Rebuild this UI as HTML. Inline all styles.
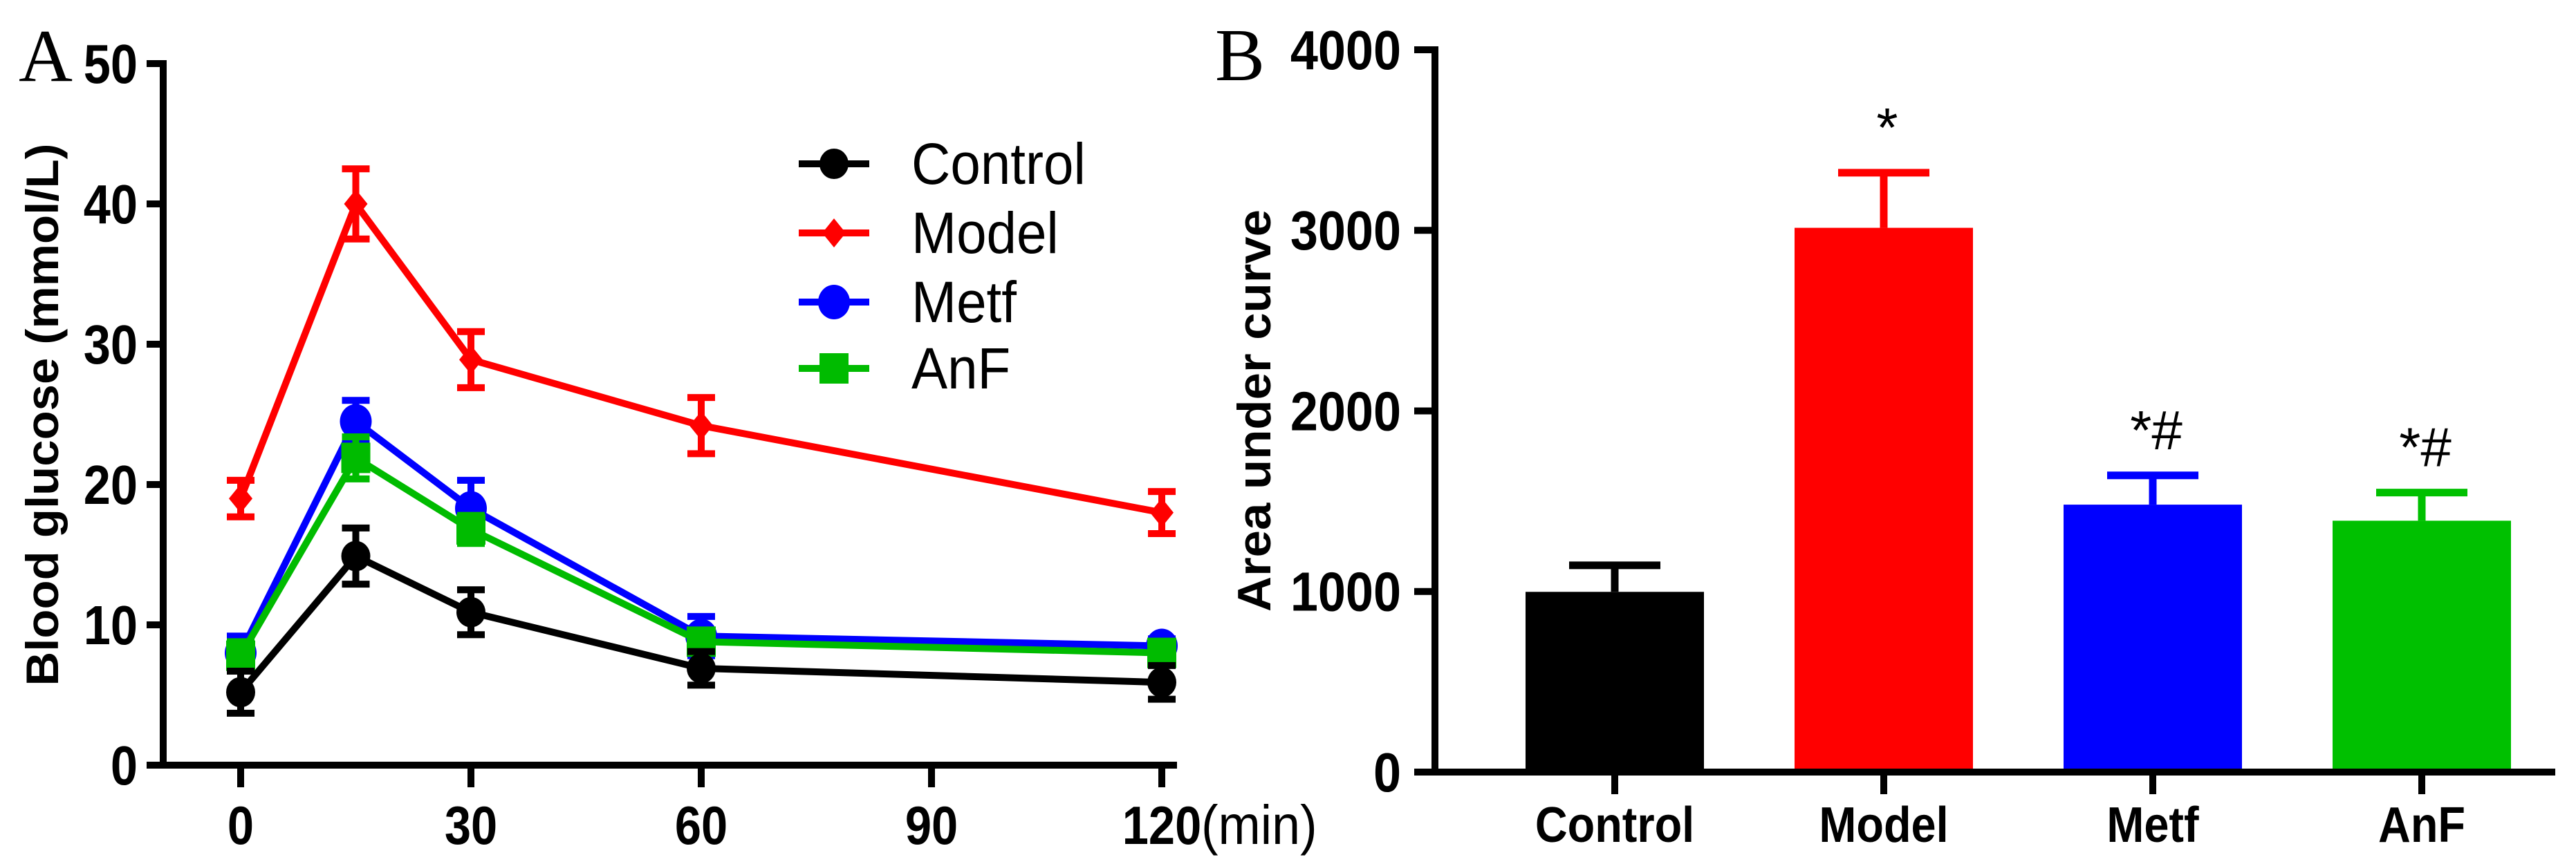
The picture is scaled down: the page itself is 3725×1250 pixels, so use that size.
<!DOCTYPE html>
<html><head><meta charset="utf-8"><style>
html,body{margin:0;padding:0;background:#fff}
svg{display:block}
</style></head><body>
<svg id="fig" width="3725" height="1250" viewBox="0 0 3725 1250" xmlns="http://www.w3.org/2000/svg" font-family="Liberation Sans, Arial, sans-serif">
<g id="A"></g>
<g id="B"></g>
</svg>
<script>
// ---- Panel A data ----
const timePoints = [0, 15, 30, 60, 120];
const xTicksA = [0, 30, 60, 90, 120];
const yTicksA = [0, 10, 20, 30, 40, 50];
const seriesNames = ["Control", "Model", "Metf", "AnF"];
const controlMean = [5.2, 14.9, 10.9, 6.9, 5.9];
const controlErr = [1.5, 2.0, 1.6, 1.2, 1.2];
const modelMean = [19.0, 40.0, 28.9, 24.2, 18.0];
const modelErr = [1.3, 2.5, 2.0, 2.0, 1.5];
const metfMean = [8.0, 24.5, 18.3, 9.2, 8.5];
const metfErr = [1.2, 1.5, 2.0, 1.4, 0.5];
const anfMean = [7.8, 21.9, 16.8, 8.8, 8.0];
const anfErr = [1.0, 1.5, 1.0, 0.8, 0.5];
// ---- Panel B data ----
const groups = ["Control", "Model", "Metf", "AnF"];
const aucMean = [998, 3014, 1481, 1392];
const aucErr = [147, 305, 162, 156];
const aucSig = ["", "*", "*#", "*#"];
const yTicksB = [0, 1000, 2000, 3000, 4000];

const NS = "http://www.w3.org/2000/svg";
function mk(parent, tag, attrs, txt) {
  const e = document.createElementNS(NS, tag);
  for (const k in attrs) e.setAttribute(k, attrs[k]);
  if (txt !== undefined) e.textContent = txt;
  parent.appendChild(e);
  return e;
}
const colors = ["#000000", "#ff0000", "#0000ff", "#00bb00"];
const barColors = ["#000000", "#ff0000", "#0000ff", "#00c000"];

// ---------- Panel A ----------
const A = document.getElementById("A");
const ax0 = 236, ay0 = 1107, ay50 = 92;
const xA = t => 348 + (t / 30) * 333;
const yA = v => ay0 - (v / 50) * (ay0 - ay50);

let t;
t = mk(A, "text", {x: 27, y: 117, "font-family": "Liberation Serif, serif", "font-size": 108});
t.textContent = "A";



let ln = mk(A, "line", {x1: ax0, y1: ay50 - 5, x2: ax0, y2: ay0 + 5, stroke: "#000", "stroke-width": 10});


ln = mk(A, "line", {x1: 212, y1: ay0, x2: 1702, y2: ay0, stroke: "#000", "stroke-width": 10});



yTicksA.forEach(v => {
  const tk = mk(A, "line", {x1: 212, y1: yA(v), x2: ax0, y2: yA(v), stroke: "#000", "stroke-width": 10});
  
  
  const lb = mk(A, "text", {x: 199, y: yA(v) + 28, "text-anchor": "end", "font-size": 80, "font-weight": "bold", transform: `translate(199 0) scale(0.88 1) translate(-199 0)`}, String(v));
  
  
});
xTicksA.forEach(v => {
  const tk = mk(A, "line", {x1: xA(v), y1: ay0, x2: xA(v), y2: ay0 + 32, stroke: "#000", "stroke-width": 10});
  
  
  const lb = mk(A, "text", {x: xA(v), y: 1221, "text-anchor": "middle", "font-size": 78, "font-weight": "bold", transform: `translate(${xA(v)} 0) scale(0.88 1) translate(${-xA(v)} 0)`}, String(v));
  
  
});
t = mk(A, "text", {x: 1737, y: 1221, "font-size": 80, transform: "translate(1737 0) scale(0.92 1) translate(-1737 0)"}, "(min)");


t = mk(A, "text", {x: 0, y: 0, "text-anchor": "middle", "font-size": 66, "font-weight": "bold", textLength: 785, lengthAdjust: "spacingAndGlyphs", transform: "translate(84 600) rotate(-90)"}, "Blood glucose (mmol/L)");



const means = [controlMean, modelMean, metfMean, anfMean];
const errs = [controlErr, modelErr, metfErr, anfErr];
function marker(g, i, cx, cy, s) {
  let m;
  if (i === 0) m = mk(g, "ellipse", {cx, cy, rx: 21 * s, ry: 22 * s, fill: colors[i]});
  else if (i === 1) m = mk(g, "polygon", {points: `${cx},${cy-21*s} ${cx+17*s},${cy} ${cx},${cy+21*s} ${cx-17*s},${cy}`, fill: colors[i]});
  else if (i === 2) m = mk(g, "ellipse", {cx, cy, rx: 23 * s, ry: 25 * s, fill: colors[i]});
  else m = mk(g, "rect", {x: cx - 21 * s, y: cy - 22 * s, width: 42 * s, height: 44 * s, fill: colors[i]});
  return m;
}
[1, 2, 3, 0].forEach(i => {
  const g = mk(A, "g", {});
  
  
  const pts = timePoints.map((tp, k) => `${xA(tp)},${yA(means[i][k])}`).join(" ");
  const pl = mk(g, "polyline", {points: pts, fill: "none", stroke: colors[i], "stroke-width": 10});
  
  
  timePoints.forEach((tp, k) => {
    const cx = xA(tp), m = means[i][k], e = errs[i][k];
    const eb = mk(g, "path", {d: `M${cx},${yA(m+e)}V${yA(m-e)}M${cx-20},${yA(m+e)}H${cx+20}M${cx-20},${yA(m-e)}H${cx+20}`, stroke: colors[i], "stroke-width": 10, fill: "none"});
    
    
    const mkr = marker(g, i, cx, yA(m), 1);
    
    
  });
});
// legend
const legY = [237, 337, 437, 533];
seriesNames.forEach((n, i) => {
  const g = mk(A, "g", {});
  
  
  mk(g, "line", {x1: 1155, y1: legY[i], x2: 1257, y2: legY[i], stroke: colors[i], "stroke-width": 10});
  marker(g, i, 1206, legY[i], 1);
  mk(g, "text", {x: 1318, y: legY[i] + 29, "font-size": 84, transform: `translate(1318 0) scale(0.93 1) translate(-1318 0)`}, n);
});

// ---------- Panel B ----------
const B = document.getElementById("B");
const bx0 = 2075, by0 = 1117, by4000 = 72;
const yB = v => by0 - (v / 4000) * (by0 - by4000);
const xB = i => 2335 + i * 389;
const barW = 258;

t = mk(B, "text", {x: 1757, y: 116, "font-family": "Liberation Serif, serif", "font-size": 108}, "B");



groups.forEach((gname, i) => {
  const r = mk(B, "rect", {x: xB(i) - barW / 2, y: yB(aucMean[i]), width: barW, height: by0 - yB(aucMean[i]), fill: barColors[i]});
  
  
  const top = yB(aucMean[i] + aucErr[i]);
  const eb = mk(B, "path", {d: `M${xB(i)},${yB(aucMean[i])}V${top}M${xB(i)-66},${top}H${xB(i)+66}`, stroke: barColors[i], "stroke-width": 11, fill: "none"});
  
  
  if (aucSig[i]) {
    const s = mk(B, "text", {x: xB(i) + 5, y: top - 38, "text-anchor": "middle", "font-size": 80}, aucSig[i]);
    
    
  }
  const tk = mk(B, "line", {x1: xB(i), y1: by0, x2: xB(i), y2: by0 + 32, stroke: "#000", "stroke-width": 10});
  
  
  const lb = mk(B, "text", {x: xB(i), y: 1218, "text-anchor": "middle", "font-size": 72, "font-weight": "bold", transform: `translate(${xB(i)} 0) scale(0.9 1) translate(${-xB(i)} 0)`}, gname);
  
  
});
ln = mk(B, "line", {x1: bx0, y1: by4000 - 5, x2: bx0, y2: by0 + 5, stroke: "#000", "stroke-width": 10});


ln = mk(B, "line", {x1: 2045, y1: by0, x2: 3695, y2: by0, stroke: "#000", "stroke-width": 10});


yTicksB.forEach(v => {
  const tk = mk(B, "line", {x1: 2045, y1: yB(v), x2: bx0, y2: yB(v), stroke: "#000", "stroke-width": 10});
  
  
  const lb = mk(B, "text", {x: 2026, y: yB(v) + 28, "text-anchor": "end", "font-size": 80, "font-weight": "bold", transform: `translate(2026 0) scale(0.9 1) translate(-2026 0)`}, String(v));
  
  
});
t = mk(B, "text", {x: 0, y: 0, "text-anchor": "middle", "font-size": 68, "font-weight": "bold", textLength: 582, lengthAdjust: "spacingAndGlyphs", transform: "translate(1837 594) rotate(-90)"}, "Area under curve");


</script>
</body></html>
